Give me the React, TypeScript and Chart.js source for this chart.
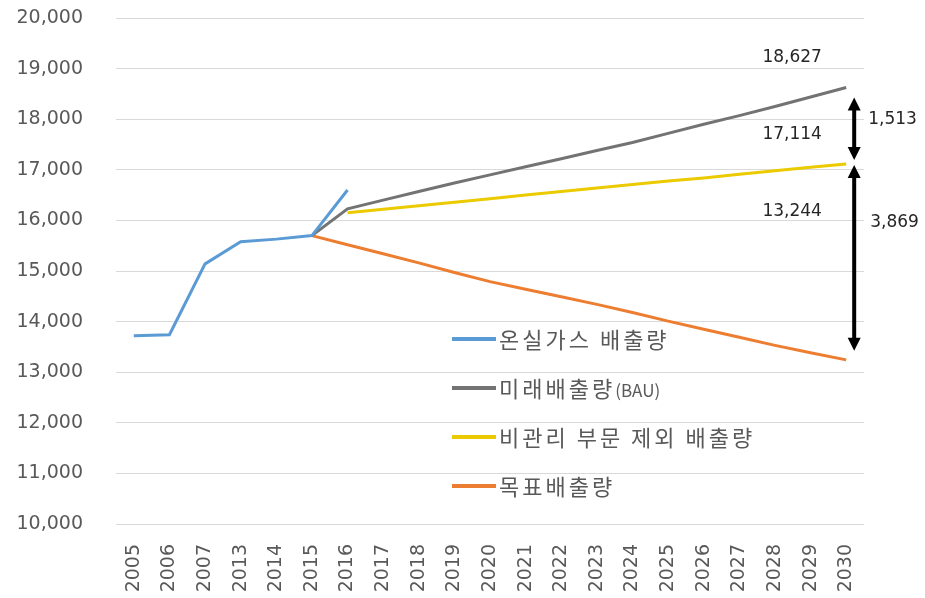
import React, { useEffect, useRef } from 'react';
import { Chart, registerables } from 'chart.js';

Chart.register(...registerables);

const years = ['2005', '2006', '2007', '2013', '2014', '2015', '2016', '2017', '2018', '2019', '2020', '2021', '2022', '2023', '2024', '2025', '2026', '2027', '2028', '2029', '2030'];

const emissions = [13720, 13740, 15140, 15580, 15630, 15700, 16600, null, null, null, null, null, null, null, null, null, null, null, null, null, null];
const bau = [null, null, null, null, null, 15700, 16230, 16400, 16570, 16740, 16900, 17060, 17220, 17380, 17540, 17720, 17900, 18070, 18250, 18440, 18627];
const excludingNonManaged = [null, null, null, null, null, null, 16150, 16220, 16290, 16360, 16430, 16500, 16570, 16640, 16710, 16780, 16840, 16910, 16980, 17050, 17114];
const target = [null, null, null, null, null, 15700, 15520, 15340, 15160, 14970, 14790, 14640, 14490, 14340, 14180, 14010, 13850, 13690, 13530, 13385, 13244];

const seriesNames = ['온실가스 배출량', '미래배출량(BAU)', '비관리 부문 제외 배출량', '목표배출량'];
const seriesColors = ['#5B9BD5', '#737373', '#EBCB00', '#ED7D31'];

const valueLabels = ['18,627', '17,114', '13,244'];
const gapLabels = ['1,513', '3,869'];

const TICK_FONT = 'DejaVu Sans';

export default function App() {
  const ref = useRef<HTMLCanvasElement>(null);

  useEffect(() => {
    const overlay = {
      id: 'overlay',
      afterDraw(chart: any) {
        const ctx = chart.ctx as CanvasRenderingContext2D;
        const xs = chart.scales.x;
        const ys = chart.scales.y;
        const last = years.length - 1;
        const x30 = xs.getPixelForValue(last);

        // legend inside plot
        ctx.save();
        const lx = 452;
        const ly0 = 339;
        const lstep = 49;
        chart.data.datasets.forEach((ds: any, i: number) => {
          const y = ly0 + i * lstep;
          ctx.strokeStyle = ds.borderColor;
          ctx.lineWidth = 4;
          ctx.beginPath();
          ctx.moveTo(lx, y);
          ctx.lineTo(lx + 44, y);
          ctx.stroke();
          ctx.fillStyle = '#595959';
          ctx.textAlign = 'left';
          ctx.textBaseline = 'middle';
          const label: string = ds.label;
          const p = label.indexOf('(');
          const main = p >= 0 ? label.slice(0, p) : label;
          const tail = p >= 0 ? label.slice(p) : '';
          ctx.font = '22px "Noto Sans CJK KR"';
          (ctx as any).letterSpacing = '3px';
          ctx.fillText(main, lx + 47, y + 1);
          const w = ctx.measureText(main).width;
          if (tail) {
            ctx.font = '17px "Noto Sans CJK KR"';
            (ctx as any).letterSpacing = '0px';
            ctx.fillText(tail, lx + 47 + w, y + 3);
          }
        });
        (ctx as any).letterSpacing = '0px';
        ctx.restore();

        // arrows
        const drawArrow = (x: number, yTop: number, yBot: number) => {
          const hl = 13;
          const hw = 6.5;
          ctx.save();
          ctx.strokeStyle = '#000';
          ctx.fillStyle = '#000';
          ctx.lineWidth = 4;
          ctx.beginPath();
          ctx.moveTo(x, yTop + hl - 1);
          ctx.lineTo(x, yBot - hl + 1);
          ctx.stroke();
          ctx.beginPath();
          ctx.moveTo(x, yTop);
          ctx.lineTo(x - hw, yTop + hl);
          ctx.lineTo(x + hw, yTop + hl);
          ctx.closePath();
          ctx.fill();
          ctx.beginPath();
          ctx.moveTo(x, yBot);
          ctx.lineTo(x - hw, yBot - hl);
          ctx.lineTo(x + hw, yBot - hl);
          ctx.closePath();
          ctx.fill();
          ctx.restore();
        };
        const yB = ys.getPixelForValue(bau[last] as number);
        const yY = ys.getPixelForValue(excludingNonManaged[last] as number);
        const yT = ys.getPixelForValue(target[last] as number);
        const ax = x30 + 8;
        drawArrow(ax, yB + 10, yY - 4);
        drawArrow(ax, yY + 1, yT - 9);

        // value labels
        ctx.save();
        ctx.fillStyle = '#262626';
        ctx.font = `17px "${TICK_FONT}"`;
        ctx.textBaseline = 'middle';
        ctx.textAlign = 'center';
        ctx.fillText(valueLabels[0], x30 - 54, ys.getPixelForValue(19209));
        ctx.fillText(valueLabels[1], x30 - 54, ys.getPixelForValue(17688));
        ctx.fillText(valueLabels[2], x30 - 54, ys.getPixelForValue(16166));
        ctx.textAlign = 'left';
        ctx.fillText(gapLabels[0], x30 + 22, ys.getPixelForValue(17984));
        ctx.fillText(gapLabels[1], x30 + 24, ys.getPixelForValue(15949));
        ctx.restore();
      },
    };

    const mk = (i: number, data: (number | null)[]) => ({
      label: seriesNames[i],
      data,
      borderColor: seriesColors[i],
      backgroundColor: seriesColors[i],
      borderWidth: 3,
      pointRadius: 0,
      pointHoverRadius: 0,
      tension: 0,
      spanGaps: false,
      fill: false,
    });

    const chart = new Chart(ref.current as HTMLCanvasElement, {
      type: 'line',
      data: {
        labels: years,
        datasets: [mk(0, emissions), mk(1, bau), mk(2, excludingNonManaged), mk(3, target)],
      },
      options: {
        responsive: false,
        animation: false,
        devicePixelRatio: 1,
        layout: { padding: { top: 18, right: 61, left: 0, bottom: 0 } },
        plugins: {
          legend: { display: false },
          tooltip: { enabled: false },
        },
        scales: {
          x: {
            type: 'category',
            offset: true,
            grid: { display: false, drawTicks: false },
            border: { display: false },
            ticks: {
              autoSkip: false,
              minRotation: 90,
              maxRotation: 90,
              color: '#595959',
              font: { family: TICK_FONT, size: 19 },
              padding: 20,
            },
            afterFit: (s: any) => {
              s.height = 74;
            },
          },
          y: {
            min: 10000,
            max: 20000,
            grid: {
              color: '#D9D9D9',
              lineWidth: 1,
              drawTicks: true,
              tickLength: 31,
              tickColor: 'rgba(0,0,0,0)',
            },
            border: { display: false },
            ticks: {
              stepSize: 1000,
              color: '#595959',
              font: { family: TICK_FONT, size: 19 },
              padding: 2,
              callback: (v: any) => Number(v).toLocaleString('en-US'),
            },
            afterFit: (s: any) => {
              s.width = 116;
            },
          },
        },
      },
      plugins: [overlay],
    } as any);

    return () => chart.destroy();
  }, []);

  return (
    <div style={{ position: 'fixed', left: 0, top: 0, width: 925, height: 598, background: '#fff' }}>
      <canvas ref={ref} width={925} height={598} style={{ width: 925, height: 598, display: 'block' }} />
    </div>
  );
}
